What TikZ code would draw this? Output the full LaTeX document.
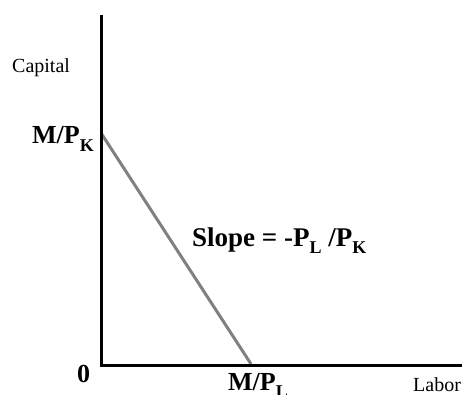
\documentclass[tikz,border=0pt]{standalone}
\usepackage{fontspec}
\setmainfont{Liberation Serif}
\newcommand{\lowsub}[1]{\raisebox{-.28em}{\fontsize{18}{18}\selectfont #1}}

\begin{document}
\begin{tikzpicture}[x=1pt,y=-1pt,
 axis/.style={line width=3pt},
 budget/.style={line width=3pt,draw=gray},
 axlabel/.style={font=\fontsize{20}{20}\selectfont,inner sep=0pt,anchor=base west},
 intlabel/.style={font=\fontsize{26}{26}\selectfont\bfseries,inner sep=0pt,anchor=base west}]
\useasboundingbox (0,0) rectangle (465,395);

\coordinate (ytop) at (101,15);
\coordinate (origin) at (101,365);
\coordinate (xend) at (462,365);
\coordinate (kint) at (101,133);
\coordinate (lint) at (251,364);

% budget line
\draw[budget] (kint) -- (lint);
% axes
\draw[axis] (ytop) -- (origin) -- (xend);

\node[axlabel] (capital) at (12,73) {Capital};
\node[axlabel] (labor) at (413,391) {Labor};
\node[intlabel] (mpk) at (32,144) {M/P\lowsub{K}};
\node[intlabel] (zero) at (77,382) {0};
\node[intlabel] (mpl) at (228,390) {M/P\lowsub{L}};
\node[intlabel,font=\fontsize{27}{27}\selectfont\bfseries] (slope) at (192,246) {Slope = -P\lowsub{L} /P\lowsub{K}};
\end{tikzpicture}
\end{document}
